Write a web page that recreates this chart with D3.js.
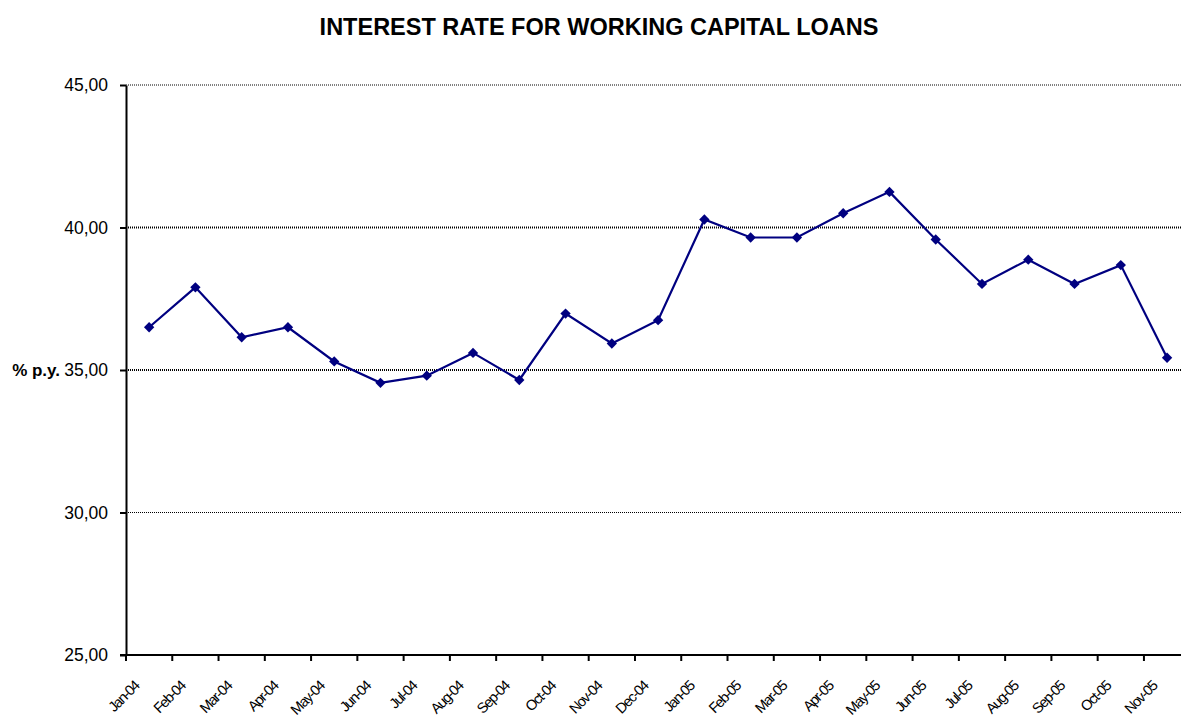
<!DOCTYPE html>
<html>
<head>
<meta charset="utf-8">
<script src="https://cdn.jsdelivr.net/npm/d3@7"></script>
<style>
  html, body { margin: 0; padding: 0; background: #fff; }
  svg { display: block; font-family: "Liberation Sans", Arial, sans-serif; }
</style>
</head>
<body>
<svg id="chart" width="1181" height="719"></svg>
<script>
// Monthly interest rate on working capital loans, % per year
const months = ["Jan-04","Feb-04","Mar-04","Apr-04","May-04","Jun-04","Jul-04","Aug-04",
  "Sep-04","Oct-04","Nov-04","Dec-04","Jan-05","Feb-05","Mar-05","Apr-05","May-05",
  "Jun-05","Jul-05","Aug-05","Sep-05","Oct-05","Nov-05"];
const rates = [36.5, 37.9, 36.15, 36.5, 35.3, 34.55, 34.8, 35.6, 34.65, 36.98, 35.93, 36.75,
  40.28, 39.65, 39.65, 40.5, 41.25, 39.58, 38.02, 38.87, 38.02, 38.68, 35.43];
const yTicks = [25, 30, 35, 40, 45];
const yDomain = [25, 45];
const titleText = "INTEREST RATE FOR WORKING CAPITAL LOANS";
const yAxisTitle = "% p.y.";

const svg = d3.select("#chart");
const left = 126, bandW = 46.27;
const x = d3.scaleBand().domain(months).range([left, left + months.length * bandW]).padding(0);
const y = d3.scaleLinear().domain(yDomain).range([655, 85]);
const fmt = v => d3.format(".2f")(v).replace(".", ",");

// title
svg.append("text")
  .attr("x", 599).attr("y", 35)
  .attr("text-anchor", "middle")
  .attr("font-weight", "bold")
  .attr("font-size", 23.5)
  .text(titleText);

// dotted gridlines
svg.append("g").selectAll("line")
  .data(yTicks.filter(t => t > yDomain[0]))
  .join("line")
  .attr("x1", left).attr("x2", 1181)
  .attr("y1", d => y(d)).attr("y2", d => y(d))
  .attr("stroke", "#000")
  .attr("stroke-width", d => (d === 35 || d === 40) ? 2 : 1)
  .attr("stroke-dasharray", "1,1");

// y axis
const yAxis = svg.append("g")
  .attr("transform", `translate(${left},0)`)
  .call(d3.axisLeft(y).tickValues(yTicks).tickFormat(fmt).tickSize(6).tickSizeOuter(0));
yAxis.select(".domain").attr("stroke", "#000").attr("stroke-width", 2);
yAxis.selectAll(".tick line").attr("stroke", "#000").attr("stroke-width", 2);
yAxis.selectAll(".tick text")
  .attr("x", -18).attr("font-size", 17.5).attr("fill", "#000")
  .attr("font-family", "Liberation Sans, Arial, sans-serif");

svg.append("text")
  .attr("x", 60).attr("y", y(35))
  .attr("dy", "0.35em")
  .attr("text-anchor", "end")
  .attr("font-weight", "bold")
  .attr("font-size", 17)
  .text(yAxisTitle);

// x axis with ticks on category boundaries
const xAxisG = svg.append("g").attr("transform", `translate(0,${y(yDomain[0])})`);
xAxisG.append("line")
  .attr("x1", left - 6).attr("x2", 1181)
  .attr("stroke", "#000").attr("stroke-width", 2);
xAxisG.selectAll("line.tick")
  .data(months)
  .join("line")
  .attr("class", "tick")
  .attr("x1", d => x(d)).attr("x2", d => x(d))
  .attr("y1", 0).attr("y2", 6)
  .attr("stroke", "#000").attr("stroke-width", 2);
xAxisG.selectAll("text")
  .data(months)
  .join("text")
  .attr("transform", d => `translate(${x(d) + x.bandwidth() / 2 - 9},${32}) rotate(-45)`)
  .attr("text-anchor", "end")
  .attr("font-size", 14.5)
  .attr("letter-spacing", -1.3)
  .text(d => d);

// series line and diamond markers
const cx = d => x(d) + x.bandwidth() / 2;
const pts = months.map((m, i) => [cx(m), y(rates[i])]);
svg.append("path")
  .attr("d", d3.line()(pts))
  .attr("fill", "none")
  .attr("stroke", "#000080")
  .attr("stroke-width", 2.2);

svg.append("g").selectAll("path")
  .data(months)
  .join("path")
  .attr("transform", (d, i) => `translate(${cx(d)},${y(rates[i])})`)
  .attr("d", d3.symbol().type(d3.symbolDiamond2).size(68))
  .attr("fill", "#000080");
</script>
</body>
</html>
